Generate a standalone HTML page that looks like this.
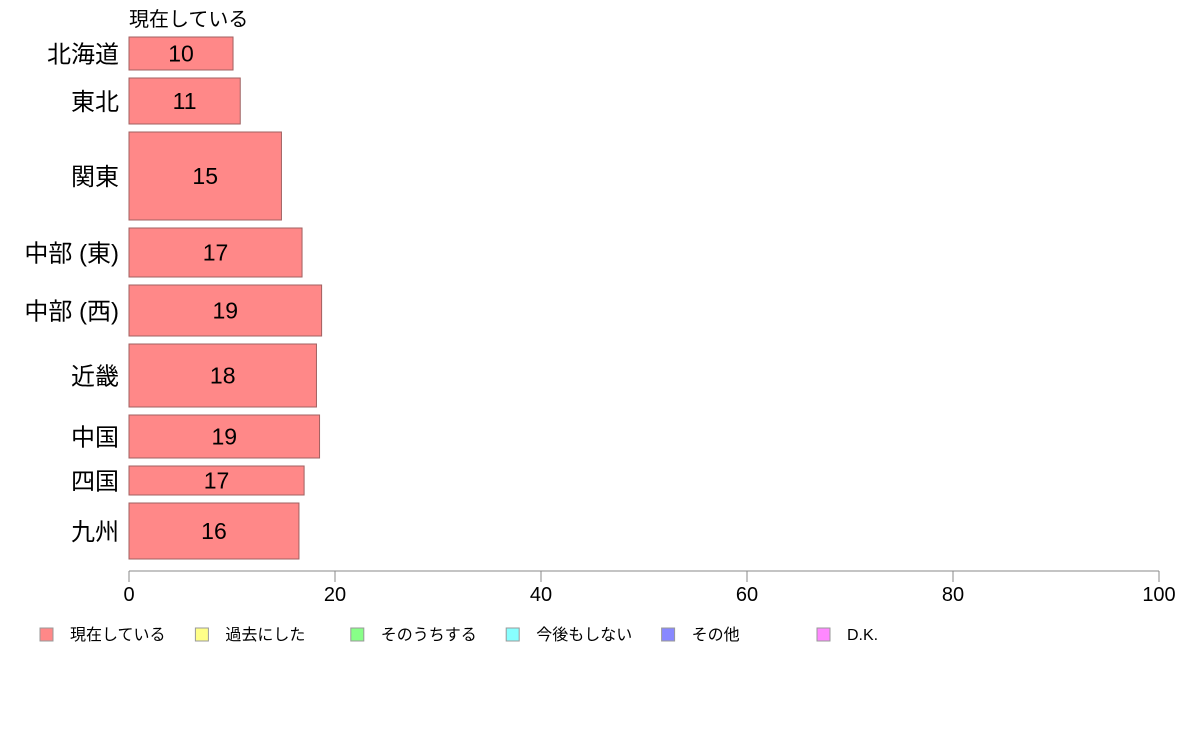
<!DOCTYPE html>
<html><head><meta charset="utf-8"><style>
body{margin:0;background:#fff;}
svg{display:block;font-family:"Liberation Sans","Noto Sans CJK JP",sans-serif;}
</style></head><body>
<svg id="c" width="1188" height="736" xmlns="http://www.w3.org/2000/svg">
<text x="129" y="26" font-size="20" fill="#000">現在している</text>
<line x1="129" y1="571" x2="1159" y2="571" stroke="#888" stroke-width="1"/>
<g id="bars"></g><g id="ticks"></g><g id="legend"></g>
</svg>
<script>
const categories=["北海道","東北","関東","中部 (東)","中部 (西)","近畿","中国","四国","九州"];
const values=[10.1,10.8,14.8,16.8,18.7,18.2,18.5,17.0,16.5];
const labels=["10","11","15","17","19","18","19","17","16"];
const bandTops=[37,78,132,228,285,344,415,466,503];
const bandBottoms=[70,124,220,277,336,407,458,495,559];
const tickValues=[0,20,40,60,80,100];
const legendLabels=["現在している","過去にした","そのうちする","今後もしない","その他","D.K."];
const legendColors=["#FF8888","#FFFF88","#88FF88","#88FFFF","#8888FF","#FF88FF"];
const NS="http://www.w3.org/2000/svg";
const x=v=>129+v*10.3;
function mk(t,a,p){const e=document.createElementNS(NS,t);for(const k in a)e.setAttribute(k,a[k]);p.appendChild(e);return e;}
const gb=document.getElementById('bars');
categories.forEach((c,i)=>{
 const t=bandTops[i],b=bandBottoms[i],m=(t+b)/2;
 const r=mk('rect',{x:x(0),y:t,width:x(values[i])-x(0),height:b-t,fill:'#FF8888',stroke:'#A06060','stroke-width':1},gb);
 
 
 const lt=mk('text',{x:(x(0)+x(values[i]))/2,y:m+8,'text-anchor':'middle','font-size':23,fill:'#000'},gb);
 lt.textContent=labels[i];
 
 
 const ct=mk('text',{x:119,y:m+9,'text-anchor':'end','font-size':24,fill:'#000'},gb);
 ct.textContent=c;
 
 
});
const gt=document.getElementById('ticks');
tickValues.forEach(v=>{
 const l=mk('line',{x1:x(v),y1:571,x2:x(v),y2:582,stroke:'#888'},gt);
 
 
 const t=mk('text',{x:x(v),y:601,'text-anchor':'middle','font-size':20,fill:'#000'},gt);
 t.textContent=v;
 
 
});
const gl=document.getElementById('legend');
legendLabels.forEach((s,i)=>{
 const lx=40+i*155.4;
 const r=mk('rect',{x:lx,y:628,width:13,height:13,fill:legendColors[i],stroke:'#999'},gl);
 
 
 const t=mk('text',{x:lx+30,y:640,'font-size':16,fill:'#000'},gl);
 t.textContent=s;
 
 
});
</script>
</body></html>
